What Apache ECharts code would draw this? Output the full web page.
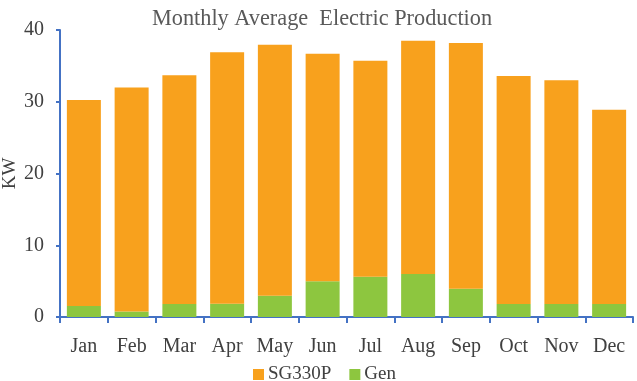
<!DOCTYPE html>
<html>
<head>
<meta charset="utf-8">
<script src="https://cdn.jsdelivr.net/npm/echarts@6/dist/echarts.min.js"></script>
<style>
  html, body { margin: 0; padding: 0; background: #fff; }
  #chart { width: 637px; height: 381px; }
</style>
</head>
<body>
<div id="chart"></div>
<script>
let months = ["Jan", "Feb", "Mar", "Apr", "May", "Jun", "Jul", "Aug", "Sep", "Oct", "Nov", "Dec"];
let gen = [1.55, 0.75, 1.8, 1.85, 2.95, 5.0, 5.6, 6.0, 3.95, 1.8, 1.8, 1.8];
let sg330p = [28.7, 31.25, 31.9, 35.05, 35.0, 31.7, 30.1, 32.5, 34.25, 31.8, 31.2, 27.1];

let serif = "'Liberation Serif', 'DejaVu Serif', serif";
let axisBlue = "#4472C4";

let option = {
  animation: false,
  title: {
    text: "Monthly Average  Electric Production",
    left: 317,
    textAlign: "center",
    top: 3,
    textStyle: {
      fontFamily: serif,
      fontSize: 22.3,
      fontWeight: "normal",
      color: "#595959"
    }
  },
  legend: {
    top: 360,
    left: 248,
    itemWidth: 11,
    itemHeight: 11,
    itemGap: 18,
    icon: "rect",
    textStyle: {
      fontFamily: serif,
      fontSize: 19,
      color: "#404040",
      padding: [0, 0, 0, -1]
    },
    data: ["SG330P", "Gen"]
  },
  grid: {
    left: 60,
    right: 4,
    top: 30,
    bottom: 64,
    outerBoundsMode: "none"
  },
  xAxis: {
    type: "category",
    data: months,
    axisLine: { lineStyle: { color: axisBlue, width: 2 } },
    axisTick: { show: true, length: 6, alignWithLabel: false, lineStyle: { color: axisBlue, width: 2 } },
    axisLabel: {
      fontFamily: serif,
      fontSize: 20,
      color: "#404040",
      margin: 20
    }
  },
  yAxis: {
    type: "value",
    min: 0,
    max: 40,
    interval: 10,
    name: "KW",
    nameLocation: "middle",
    nameGap: 40,
    nameMoveOverlap: false,
    nameTextStyle: {
      fontFamily: serif,
      fontSize: 19,
      color: "#404040"
    },
    axisLine: { show: true, lineStyle: { color: axisBlue, width: 2 } },
    axisTick: { show: true, length: 4, lineStyle: { color: axisBlue, width: 2 } },
    splitLine: { show: false },
    axisLabel: {
      fontFamily: serif,
      fontSize: 20,
      color: "#404040",
      margin: 16
    }
  },
  series: [
    {
      name: "Gen",
      type: "bar",
      stack: "total",
      barWidth: 34,
      itemStyle: { color: "#8DC63F" },
      data: gen
    },
    {
      name: "SG330P",
      type: "bar",
      stack: "total",
      barWidth: 34,
      itemStyle: { color: "#F8A11D" },
      data: sg330p
    }
  ]
};

let chart = echarts.init(document.getElementById("chart"));
chart.setOption(option);
</script>
</body>
</html>
